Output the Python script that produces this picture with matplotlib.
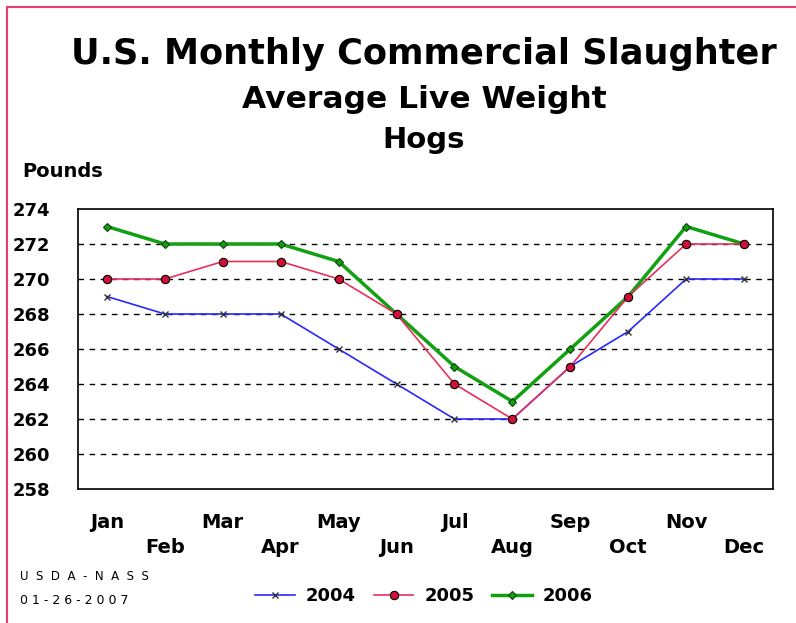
import matplotlib.pyplot as plt
from matplotlib.lines import Line2D

plt.rcParams['font.family'] = ['DejaVu Sans']

months = ['Jan', 'Feb', 'Mar', 'Apr', 'May', 'Jun',
          'Jul', 'Aug', 'Sep', 'Oct', 'Nov', 'Dec']
y2004 = [269, 268, 268, 268, 266, 264, 262, 262, 265, 267, 270, 270]
y2005 = [270, 270, 271, 271, 270, 268, 264, 262, 265, 269, 272, 272]
y2006 = [273, 272, 272, 272, 271, 268, 265, 263, 266, 269, 273, 272]
yticks = [258, 260, 262, 264, 266, 268, 270, 272, 274]

fig = plt.figure(figsize=(7.96, 6.23), dpi=100)
ax = fig.add_axes([78 / 796, 1 - 489 / 623, 695 / 796, 280 / 623])

x = list(range(len(months)))

# grid lines (dashed) at interior ticks
for v in yticks[1:-1]:
    ax.axhline(v, color='black', lw=1, ls=(0, (4, 4)), zorder=1)

ax.plot(x, y2004, color='#2828ff', lw=1.2, marker='x', ms=5,
        mec='#333333', mew=1, zorder=3, label='2004')
ax.plot(x, y2005, color='#e8305a', lw=1.2, marker='o', ms=6,
        mfc='#d0103a', mec='black', mew=0.8, zorder=4, label='2005')
ax.plot(x, y2006, color='#10a010', lw=2.5, marker='D', ms=4,
        mfc='#10a010', mec='#104010', mew=0.8, zorder=2, label='2006')

ax.set_xlim(-0.5, 11.5)
ax.set_ylim(258, 274)
ax.set_yticks(yticks)
ax.set_yticklabels([str(v) for v in yticks], fontsize=13, fontweight='bold')
ax.set_xticks(x)
ax.set_xticklabels([m if i % 2 == 0 else '\n' + m for i, m in enumerate(months)],
                   fontsize=14, fontweight='bold', linespacing=1.4)
ax.tick_params(axis='both', length=0)
ax.tick_params(axis='y', pad=20)
ax.tick_params(axis='x', pad=17)
for s in ax.spines.values():
    s.set_linewidth(1.2)

fig.text(424 / 796, 1 - 54 / 623, 'U.S. Monthly Commercial Slaughter',
         ha='center', va='center', fontsize=25.3, fontweight='bold')
fig.text(424 / 796, 1 - 100 / 623, 'Average Live Weight',
         ha='center', va='center', fontsize=22.6, fontweight='bold')
fig.text(424 / 796, 1 - 140 / 623, 'Hogs',
         ha='center', va='center', fontsize=21, fontweight='bold')
fig.text(22 / 796, 1 - 171 / 623, 'Pounds',
         ha='left', va='center', fontsize=14, fontweight='bold')

fig.text(20 / 796, 1 - 576 / 623, 'U  S  D  A  -  N  A  S  S',
         ha='left', va='center', fontsize=8.5)
fig.text(20 / 796, 1 - 601 / 623, '0 1 - 2 6 - 2 0 0 7',
         ha='left', va='center', fontsize=9)

fig.legend(loc='center', bbox_to_anchor=(424 / 796, 1 - 596 / 623), ncol=3,
           frameon=False, prop={'size': 13, 'weight': 'bold'},
           handlelength=2.2, columnspacing=1.0, handletextpad=0.6)

# pink border at the top and left of the picture
fig.add_artist(Line2D([7 / 796, 1], [1 - 7 / 623, 1 - 7 / 623],
                      color='#e8406a', lw=1.5, transform=fig.transFigure))
fig.add_artist(Line2D([7 / 796, 7 / 796], [0, 1 - 7 / 623],
                      color='#e8406a', lw=1.5, transform=fig.transFigure))

fig.savefig('out.png', dpi=100)
